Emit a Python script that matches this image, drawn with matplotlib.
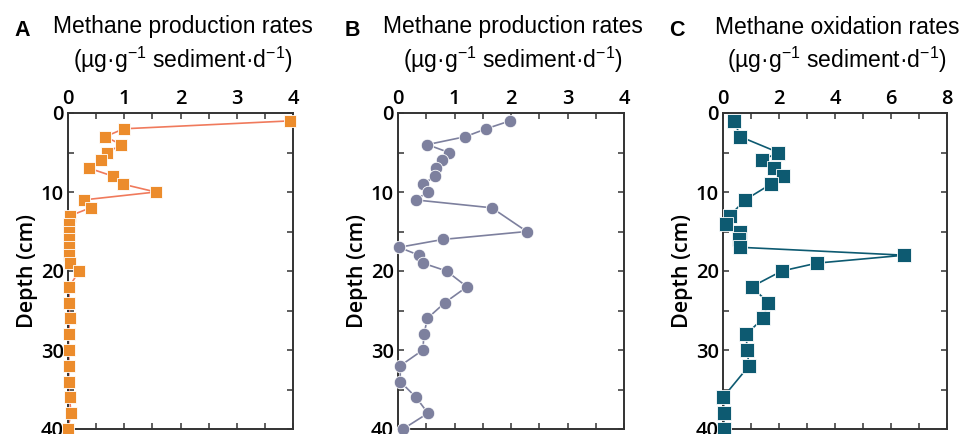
import matplotlib
matplotlib.use('Agg')
import matplotlib.pyplot as plt
from matplotlib.ticker import MultipleLocator

# depth (cm) for each panel
depth_a = [1, 2, 3, 4, 5, 6, 7, 8, 9, 10, 11, 12, 13, 14, 15, 16, 17, 18, 19, 20,
           22, 24, 26, 28, 30, 32, 34, 36, 38, 40]
prod_a = [3.94, 0.99, 0.66, 0.95, 0.70, 0.59, 0.38, 0.80, 0.97, 1.56, 0.28, 0.40, 0.04,
          0.01, 0.01, 0.01, 0.01, 0.02, 0.03, 0.20,
          0.02, 0.02, 0.03, 0.01, 0.01, 0.02, 0.01, 0.03, 0.05, 0.0]

depth_b = [1, 2, 3, 4, 5, 6, 7, 8, 9, 10, 11, 12, 15, 16, 17, 18, 19, 20,
           22, 24, 26, 28, 30, 32, 34, 36, 38, 40]
prod_b = [1.98, 1.56, 1.19, 0.52, 0.90, 0.77, 0.67, 0.66, 0.44, 0.53, 0.31, 1.66,
          2.28, 0.80, 0.02, 0.37, 0.44, 0.86,
          1.22, 0.83, 0.52, 0.46, 0.44, 0.04, 0.04, 0.32, 0.53, 0.09]

depth_c = [1, 3, 5, 6, 7, 8, 9, 11, 13, 14, 15, 16, 17, 18, 19, 20,
           22, 24, 26, 28, 30, 32, 36, 38, 40]
oxid_c = [0.40, 0.62, 1.98, 1.38, 1.83, 2.14, 1.71, 0.79, 0.24, 0.10, 0.60, 0.57, 0.62,
          6.48, 3.36, 2.10, 1.02, 1.62, 1.43, 0.83, 0.86, 0.93, 0.0, 0.05, 0.02]

letters = ['A', 'B', 'C']
titles = ['Methane production rates', 'Methane production rates', 'Methane oxidation rates']
unit = r'(µg·g$^{-1}$ sediment·d$^{-1}$)'

plt.rcParams['mathtext.fontset'] = 'custom'
plt.rcParams['mathtext.rm'] = 'Liberation Sans'
plt.rcParams['mathtext.it'] = 'Liberation Sans'
plt.rcParams['mathtext.default'] = 'regular'

W, H = 965, 434
fig = plt.figure(figsize=(W / 100, H / 100), dpi=100)

tick_font = 'Open Sans'
title_font = ['Liberation Sans', 'DejaVu Sans']

# axes boxes in pixels: left, right, top, bottom
boxes = [(68, 293), (398, 624), (723, 947)]
top_px, bot_px = 113, 429

panels = [
    (depth_a, prod_a, 's', '#ec8c2c', '#f07a5c', 4, 8.5),
    (depth_b, prod_b, 'o', '#7d809e', '#7d809e', 4, 9.0),
    (depth_c, oxid_c, 's', '#0d5a71', '#0d5a71', 8, 9.5),
]

for i, (d, v, mk, mc, lc, xmax, ms) in enumerate(panels):
    x0, x1 = boxes[i]
    ax = fig.add_axes([x0 / W, 1 - bot_px / H, (x1 - x0) / W, (bot_px - top_px) / H])
    ax.plot(v, d, color=lc, lw=1.2, zorder=2, clip_on=False)
    ax.plot(v, d, ls='none', marker=mk, ms=ms, mfc=mc, mec='white', mew=0.6,
            zorder=3, clip_on=False)
    ax.set_xlim(0, xmax)
    ax.set_ylim(40, 0)
    ax.xaxis.set_major_locator(MultipleLocator(1 if xmax == 4 else 2))
    ax.xaxis.set_minor_locator(MultipleLocator(0.5 if xmax == 4 else 1))
    ax.yaxis.set_major_locator(MultipleLocator(10))
    ax.yaxis.set_minor_locator(MultipleLocator(5))
    ax.xaxis.tick_top()
    ax.tick_params(which='both', direction='in', top=True, bottom=True, left=True, right=True,
                   length=4, width=1.1, color='#333333', labelsize=14.5, pad=3)
    ax.tick_params(axis='x', labeltop=True, labelbottom=False)
    for lab in ax.get_xticklabels() + ax.get_yticklabels():
        lab.set_fontfamily(tick_font)
        lab.set_fontweight('semibold')
    for s in ax.spines.values():
        s.set_linewidth(1.4)
        s.set_color('#333333')
    ax.set_ylabel('Depth (cm)', fontsize=15.5, family=tick_font, fontweight='semibold',
                  labelpad=2)

    cx = (x0 + x1) / 2
    fig.text((cx + 2) / W, 1 - 27 / H, titles[i], ha='center', va='center',
             fontsize=16.5, family=title_font)
    fig.text((cx + 2) / W, 1 - 60 / H, unit, ha='center', va='center',
             fontsize=16.5, family=title_font)
    fig.text((x0 - 46) / W, 1 - 30 / H, letters[i], ha='center', va='center',
             fontsize=15.5, fontweight='bold', family=title_font)

fig.savefig('out.png', dpi=100)
